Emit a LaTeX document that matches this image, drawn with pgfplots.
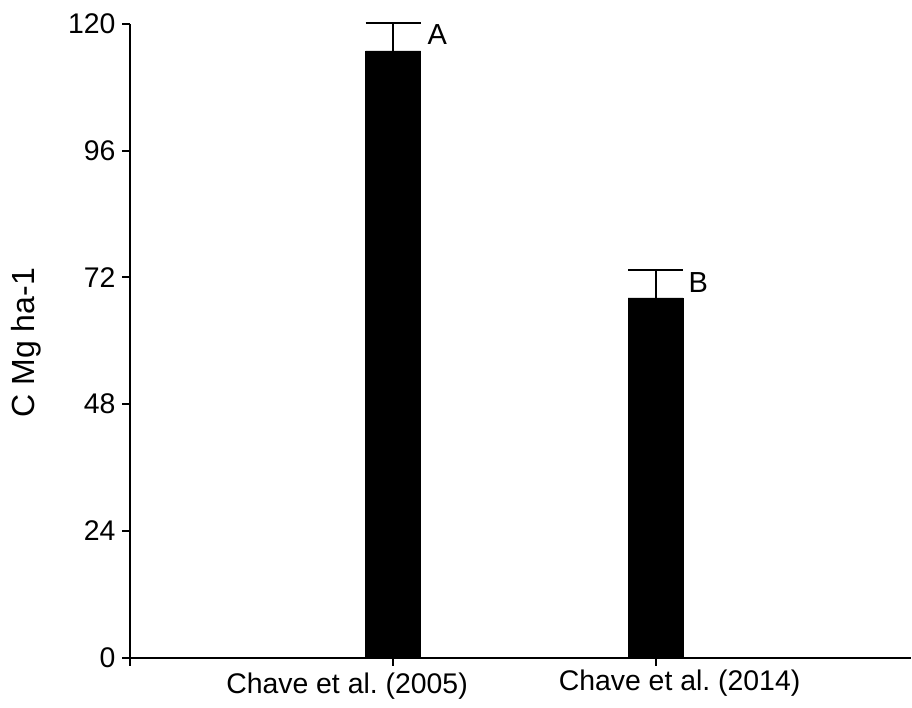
\documentclass[border=0pt]{standalone}
\usepackage{pgfplots}
\pgfplotsset{compat=1.18}
\usepackage{fontspec}
\setmainfont{Liberation Sans}
\begin{document}
\begin{tikzpicture}
\useasboundingbox (-65.25pt,-25.25pt) rectangle (390.75pt,328.75pt);
\begin{axis}[
 at={(0,0)}, anchor=south west,
 scale only axis, width=390.25pt, height=316.75pt,
 xmin=0, xmax=2.973, ymin=0, ymax=120,
 axis lines=left, axis line style={-, line width=1pt},
 clip=false,
 ybar, bar width=27.5pt,
 tick align=outside, major tick length=4pt,
 tick style={line width=1pt, black},
 ytick={0,24,48,72,96,120},
 xtick={0,1,2},
 xticklabels={,{Chave et al.\ (2005)\hspace*{46pt}},{\hspace*{24pt}\raisebox{1.5pt}[\height][\depth]{Chave et al.\ (2014)}}},
 ticklabel style={font=\fontsize{14.2}{17}\selectfont},
 /pgf/number format/assume math mode=true,
 ylabel={C Mg ha-1},
 ylabel style={font=\fontsize{16}{19}\selectfont, at={(axis description cs:-0.1224,0.497)}, anchor=base},
]
\addplot[fill=black, draw=black,
  error bars/.cd, y dir=plus, y explicit,
  error bar style={line width=1pt, black},
  error mark options={rotate=90, line width=1pt, mark size=13.75pt, black}]
  coordinates {(1,114.9) +- (0,5.35) (2,68.1) +- (0,5.3)};
\node[anchor=base west, inner sep=0pt, font=\fontsize{14.5}{17}\selectfont] at (axis cs:1.13,116.2) {A};
\node[anchor=base west, inner sep=0pt, font=\fontsize{14.5}{17}\selectfont] at (axis cs:2.124,69.2) {B};
\end{axis}
\end{tikzpicture}
\end{document}
